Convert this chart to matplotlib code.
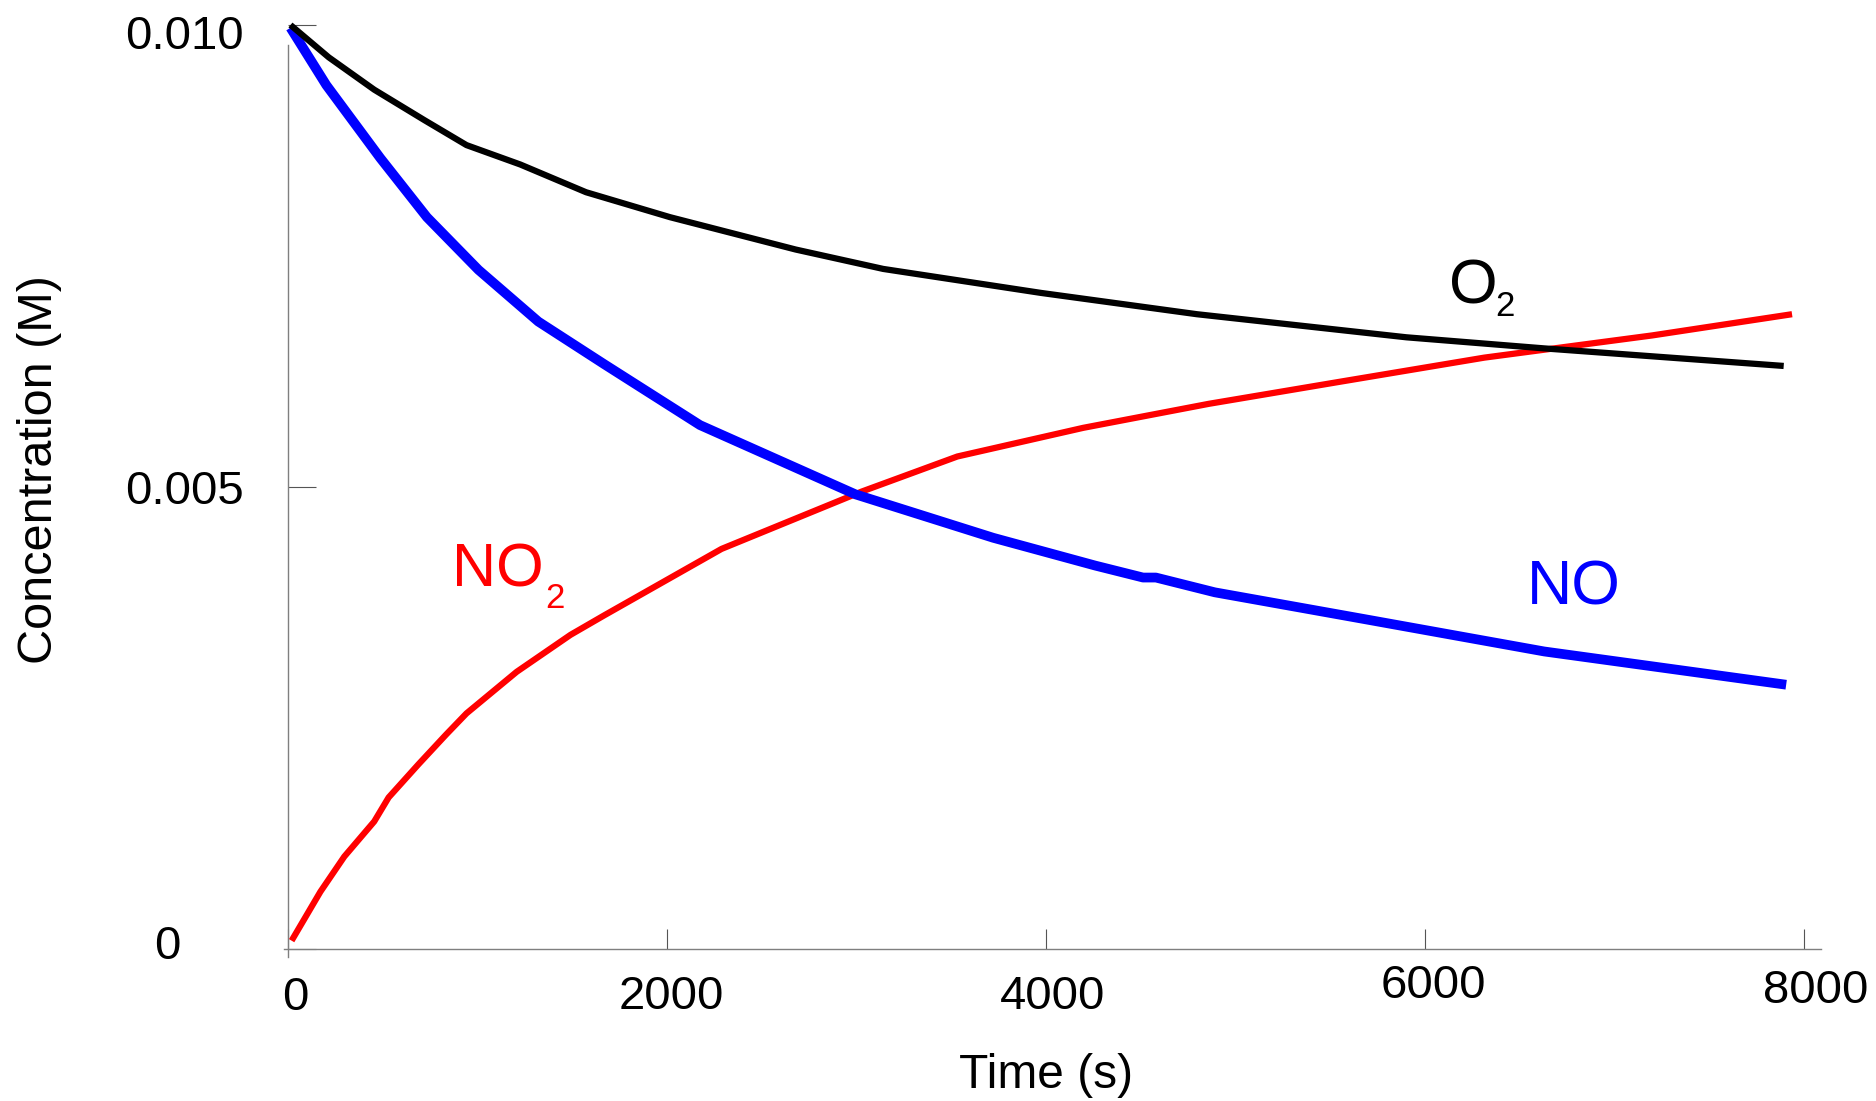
import matplotlib
matplotlib.use("Agg")
import matplotlib.pyplot as plt
from matplotlib.transforms import ScaledTranslation

plt.rcParams['font.family'] = ['Liberation Sans', 'DejaVu Sans']

# values
time_o2 = [13, 215, 455, 720, 942, 1226, 1573, 2016, 2679, 3141, 3975, 4796, 5902, 6629, 7893]
conc_o2 = [0.0100, 0.00965, 0.0093, 0.00897, 0.0087, 0.00849, 0.00819, 0.00792,
           0.00757, 0.00736, 0.0071, 0.00687, 0.00662, 0.0065, 0.00631]

time_no = [13, 202, 487, 733, 1005, 1321, 1668, 2174, 2995, 3722, 4259, 4512, 4580, 4891, 5681, 6629, 7906]
conc_no = [0.00997, 0.00935, 0.00856, 0.00792, 0.00735, 0.00679, 0.00633, 0.00567,
           0.00492, 0.00445, 0.00415, 0.00402, 0.00402, 0.00386, 0.00357, 0.00322, 0.00286]

time_no2 = [19, 171, 297, 455, 531, 689, 834, 942, 1207, 1491, 1668, 2288, 3027,
            3532, 4196, 4859, 5554, 6313, 7198, 7937]
conc_no2 = [0.00009, 0.00062, 0.0010, 0.00138, 0.00164, 0.0020, 0.00232, 0.00255,
            0.0030, 0.0034, 0.00361, 0.00433, 0.00495, 0.00533, 0.00564, 0.0059,
            0.00614, 0.0064, 0.00664, 0.00687]

x_ticks = [0, 2000, 4000, 6000, 8000]
x_tick_labels = ['0', '2000', '4000', '6000', '8000']
y_ticks = [0, 0.005, 0.010]
y_tick_labels = ['0', '0.005', '0.010']

fig = plt.figure(figsize=(18.76, 11.01), dpi=100)
ax = fig.add_axes([0.1514, 0.1308, 0.8193, 0.8465])

ax.plot(time_no2, conc_no2, color='#ff0000', lw=4.5, solid_capstyle='butt', clip_on=False, zorder=2)
ax.plot(time_no, conc_no, color='#0000ff', lw=7, solid_capstyle='butt', clip_on=False, zorder=3)
ax.plot(time_o2, conc_o2, color='black', lw=4.5, solid_capstyle='butt', clip_on=False, zorder=4)

ax.set_xlim(-21, 8090)
ax.set_ylim(-0.0000866, 0.0100)

for s in ['top', 'right']:
    ax.spines[s].set_visible(False)
ax.spines['left'].set_position(('data', 0))
ax.spines['bottom'].set_position(('data', 0))
ax.spines['left'].set_bounds(-0.0000866, 0.00978)
ax.spines['bottom'].set_bounds(-21, 8090)
for s in ['left', 'bottom']:
    ax.spines[s].set_color('#7f7f7f')
    ax.spines[s].set_linewidth(1.0)

ax.set_xticks(x_ticks)
ax.set_xticklabels(x_tick_labels)
ax.set_yticks(y_ticks)
ax.set_yticklabels(y_tick_labels)
ax.tick_params(axis='x', direction='in', length=14.4, width=0.8, color='#555555',
               labelsize=34, pad=18.5)
ax.tick_params(axis='y', direction='in', length=20.2, width=0.8, color='#555555',
               labelsize=34, pad=32)

# small shifts of single tick labels, in pixels (right, up)
x_shift = [(7, -1), (4, 0), (7, 0), (8, 11), (12, 6)]
y_shift = [(-63, 7), (0, 0), (0, -7)]
for lab, (dx, dy) in zip(ax.get_xticklabels(), x_shift):
    lab.set_transform(lab.get_transform() + ScaledTranslation(dx / 100, dy / 100, fig.dpi_scale_trans))
for lab, (dx, dy) in zip(ax.get_yticklabels(), y_shift):
    lab.set_transform(lab.get_transform() + ScaledTranslation(dx / 100, dy / 100, fig.dpi_scale_trans))

ax.set_xlabel('Time (s)', fontsize=34.5)
ax.set_ylabel('Concentration (M)', fontsize=35)
ax.xaxis.set_label_coords(0.4957, -0.1275)
ax.xaxis.label.set_va('center')
ax.yaxis.set_label_coords(-0.159, 0.5226)
ax.yaxis.label.set_va('center')

# species labels, subscripts as their own smaller text
ax.text(866, 0.00392, 'NO', color='#ff0000', fontsize=44, va='baseline', ha='left')
ax.text(1358, 0.00369, '2', color='#ff0000', fontsize=25, va='baseline', ha='left')
ax.text(6125, 0.00699, 'O', color='black', fontsize=45, va='baseline', ha='left')
ax.text(6372, 0.00685, '2', color='black', fontsize=25, va='baseline', ha='left')
ax.text(6540, 0.00373, 'NO', color='#0000ff', fontsize=45, va='baseline', ha='left')

fig.savefig('out.png', dpi=100)
